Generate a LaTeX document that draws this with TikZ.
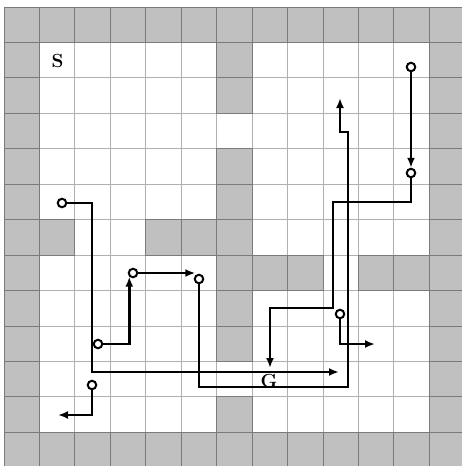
\documentclass[tikz,border=0pt]{standalone}
\usetikzlibrary{arrows.meta}
\definecolor{cellgray}{HTML}{C0C0C0}
\definecolor{gridlight}{HTML}{B0B0B0}
\definecolor{griddark}{HTML}{7A7A7A}
\begin{document}
\begin{tikzpicture}[x=1pt,y=-1pt,
  graycell/.style={fill=cellgray,draw=griddark,line width=1pt},
  gridline/.style={draw=gridlight,line width=1pt},
  route/.style={line width=2.5pt,draw=black},
  routearrow/.style={route,-{Latex[length=10pt,width=8pt]}},
  waypoint/.style={circle,draw=black,line width=2pt,fill=white,minimum size=8.5pt,inner sep=0pt},
  maplabel/.style={font=\fontsize{19}{22}\selectfont\bfseries,inner sep=0pt}]
\useasboundingbox (0,0) rectangle (462,466);
\begin{scope}
  \clip (0,0) rectangle (462,466);
  \fill[white] (0,0) rectangle (462,466);
  \foreach \k in {0,...,13}{
    \draw[gridline] ({4+35.45*\k},7) -- ({4+35.45*\k},470);
    \draw[gridline] (4,{7+35.45*\k}) -- (470,{7+35.45*\k});
  }
  \foreach \k in {0,...,12}{
    \filldraw[graycell] ({4+35.45*\k},7) rectangle +(35.45,35.45);
    \filldraw[graycell] ({4+35.45*\k},{7+35.45*12}) rectangle +(35.45,35.45);
    \filldraw[graycell] (4,{7+35.45*\k}) rectangle +(35.45,35.45);
    \filldraw[graycell] ({4+35.45*12},{7+35.45*\k}) rectangle +(35.45,35.45);
  }
  \foreach \i/\j in {6/1,6/2,6/4,6/5,6/6,6/7,6/8,6/9,6/11,1/6,4/6,5/6,7/7,8/7,10/7,11/7}{
    \filldraw[graycell] ({4+35.45*\i},{7+35.45*\j}) rectangle +(35.45,35.45);
  }
\end{scope}

% labels
\node[maplabel] (S) at (57.5,60.5) {S};
\node[maplabel] (G) at (269,380.5) {G};

% waypoints
\node[waypoint] (a1) at (62,203) {};
\node[waypoint] (b1) at (98,344) {};
\node[waypoint] (b2) at (133,273) {};
\node[waypoint] (b3) at (199,279) {};
\node[waypoint] (d1) at (411,67) {};
\node[waypoint] (d2) at (411,173) {};
\node[waypoint] (e1) at (340,314) {};
\node[waypoint] (f1) at (92,385) {};

% free ends and corners
\coordinate (ac) at (92,372);
\coordinate (aend) at (339,372);
\coordinate (c1) at (348,387);
\coordinate (c2) at (348,132);
\coordinate (c3) at (340,132);
\coordinate (cend) at (340,98);
\coordinate (d3) at (333,202);
\coordinate (d4) at (270,308);
\coordinate (dend) at (270,368);
\coordinate (eend) at (375,344);
\coordinate (fend) at (58,415);

% routes
\draw[routearrow] (a1) -| (ac) -- (aend);
\draw[routearrow] (b1) -| (b2.south west);
\draw[routearrow] (b2) -- (b3.north west |- b2.east);
\draw[routearrow] (b3) |- (c1) -- (c2) -- (c3) -- (cend);
\draw[routearrow] (d1) -- (d2);
\draw[routearrow] (d2) |- (d3) |- (d4) -- (dend);
\draw[routearrow] (e1) |- (eend);
\draw[routearrow] (f1) |- (fend);
\end{tikzpicture}
\end{document}
